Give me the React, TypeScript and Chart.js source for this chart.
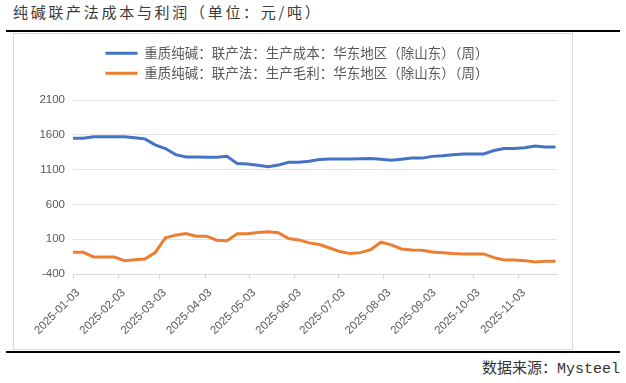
import React, { useEffect, useRef } from 'react';
import { Chart, registerables } from 'chart.js';

Chart.register(...registerables);

const TITLE = '纯碱联产法成本与利润（单位：元/吨）';
const SOURCE = '数据来源：Mysteel';
const SERIES_NAMES = [
  '重质纯碱：联产法：生产成本：华东地区（除山东）（周）',
  '重质纯碱：联产法：生产毛利：华东地区（除山东）（周）',
];

const DATES = [
  '2025-01-03', '2025-01-10', '2025-01-17', '2025-01-24', '2025-01-31',
  '2025-02-07', '2025-02-14', '2025-02-21', '2025-02-28',
  '2025-03-07', '2025-03-14', '2025-03-21', '2025-03-28',
  '2025-04-04', '2025-04-11', '2025-04-18', '2025-04-25',
  '2025-05-02', '2025-05-09', '2025-05-16', '2025-05-23', '2025-05-30',
  '2025-06-06', '2025-06-13', '2025-06-20', '2025-06-27',
  '2025-07-04', '2025-07-11', '2025-07-18', '2025-07-25',
  '2025-08-01', '2025-08-08', '2025-08-15', '2025-08-22', '2025-08-29',
  '2025-09-05', '2025-09-12', '2025-09-19', '2025-09-26',
  '2025-10-03', '2025-10-10', '2025-10-17', '2025-10-24', '2025-10-31',
  '2025-11-07', '2025-11-14', '2025-11-21', '2025-11-28',
];

const COST = [
  1552, 1552, 1571, 1571, 1571, 1571, 1557, 1542, 1455,
  1402, 1315, 1282, 1282, 1278, 1278, 1290, 1186, 1182,
  1162, 1142, 1165, 1205, 1205, 1220, 1245, 1254, 1254,
  1254, 1256, 1258, 1250, 1235, 1250, 1265, 1265, 1290,
  1300, 1315, 1325, 1325, 1325, 1375, 1402, 1402, 1415,
  1440, 1425, 1425,
];

const PROFIT = [
  -88, -88, -155, -155, -155, -208, -194, -184, -93,
  119, 158, 182, 143, 143, 86, 77, 177, 177,
  197, 206, 192, 110, 90, 47, 23, -26, -78,
  -107, -93, -49, 57, 18, -40, -54, -59, -83,
  -93, -107, -112, -112, -112, -165, -199, -199, -208,
  -228, -218, -218,
];

const X_TICK_LABELS = [
  '2025-01-03', '2025-02-03', '2025-03-03', '2025-04-03', '2025-05-03', '2025-06-03',
  '2025-07-03', '2025-08-03', '2025-09-03', '2025-10-03', '2025-11-03',
];
const Y_TICKS = [-400, 100, 600, 1100, 1600, 2100];

const X_MIN_DATE = '2025-01-03';
const X_MAX_DATE = '2025-11-29';

const DAY_MS = 86400000;
const toDay = (s: string) => (Date.parse(s) - Date.parse(X_MIN_DATE)) / DAY_MS;

const TICK_FONT = '"Liberation Sans", Arial, sans-serif';
const CJK_FONT = '"Noto Sans CJK SC", "Noto Sans", sans-serif';

const legendGap = {
  id: 'legendGap',
  beforeInit(chart: any) {
    const legend = chart.legend;
    if (!legend) return;
    const orig = legend.fit;
    legend.fit = function (this: any) {
      orig.call(this);
      this.height += 10;
    };
  },
};

export default function App() {
  const canvasRef = useRef<HTMLCanvasElement | null>(null);

  useEffect(() => {
    const canvas = canvasRef.current;
    if (!canvas) return;
    const tickDays = X_TICK_LABELS.map(toDay);
    const chart = new Chart(canvas, {
      type: 'line',
      data: {
        datasets: [
          {
            label: SERIES_NAMES[0],
            data: DATES.map((d, i) => ({ x: toDay(d), y: COST[i] })),
            borderColor: '#4472C4',
            backgroundColor: '#4472C4',
            borderWidth: 3,
            pointRadius: 0,
            tension: 0,
          },
          {
            label: SERIES_NAMES[1],
            data: DATES.map((d, i) => ({ x: toDay(d), y: PROFIT[i] })),
            borderColor: '#ED7D31',
            backgroundColor: '#ED7D31',
            borderWidth: 3,
            pointRadius: 0,
            tension: 0,
          },
        ],
      },
      options: {
        animation: false,
        responsive: false,
        maintainAspectRatio: false,
        layout: { padding: { top: 6, left: 23, right: 15, bottom: 0 } },
        plugins: {
          tooltip: { enabled: false },
          legend: {
            position: 'top',
            labels: {
              boxWidth: 32,
              boxHeight: 3,
              padding: 6.5,
              color: '#595959',
              font: { size: 13.5, family: CJK_FONT },
              generateLabels: (c: any) =>
                Chart.defaults.plugins.legend.labels
                  .generateLabels(c)
                  .map((l: any) => ({ ...l, lineWidth: 0, fillStyle: l.strokeStyle })),
            },
          },
        },
        scales: {
          x: {
            type: 'linear',
            min: 0,
            max: toDay(X_MAX_DATE),
            afterBuildTicks: (s: any) => {
              s.ticks = tickDays.map((v) => ({ value: v }));
            },
            afterFit: (s: any) => {
              s.height = 75;
            },
            ticks: {
              autoSkip: false,
              maxRotation: 45,
              minRotation: 45,
              color: '#595959',
              font: { size: 11.5, family: TICK_FONT },
              labelOffset: 5,
              padding: 7,
              callback: (v: any) => {
                const idx = tickDays.indexOf(Number(v));
                return idx >= 0 ? X_TICK_LABELS[idx] : '';
              },
            },
            grid: {
              drawOnChartArea: false,
              drawTicks: true,
              tickLength: 5,
              color: '#d9d9d9',
            },
            border: { display: true, color: '#d9d9d9', width: 1 },
          },
          y: {
            min: -400,
            max: 2100,
            afterBuildTicks: (s: any) => {
              s.ticks = Y_TICKS.map((v) => ({ value: v }));
            },
            afterFit: (s: any) => {
              s.width = 36;
            },
            ticks: {
              color: '#595959',
              font: { size: 11.5, family: TICK_FONT },
              padding: 8,
              callback: (v: any) => String(v),
            },
            grid: { color: '#e3e3e3', drawTicks: false },
            border: { display: false },
          },
        },
      },
      plugins: [legendGap],
    } as any);
    return () => chart.destroy();
  }, []);

  return (
    <div
      style={{
        position: 'absolute',
        left: 0,
        top: 0,
        width: 626,
        height: 383,
        background: '#ffffff',
        overflow: 'hidden',
      }}
    >
      <div
        style={{
          position: 'absolute',
          left: 13,
          top: 2,
          fontFamily: CJK_FONT,
          fontSize: 15,
          letterSpacing: 2.7,
          color: '#3a3a3a',
          whiteSpace: 'nowrap',
          lineHeight: '20px',
        }}
      >
        {TITLE}
      </div>
      <div style={{ position: 'absolute', left: 6, top: 30, width: 614, height: 2, background: '#000' }} />
      <div
        style={{
          position: 'absolute',
          left: 13,
          top: 33,
          width: 560,
          height: 317,
          boxSizing: 'border-box',
          border: '1px solid #d9d9d9',
        }}
      />
      <canvas
        ref={canvasRef}
        width={558}
        height={315}
        style={{ position: 'absolute', left: 14, top: 34, width: 558, height: 315 }}
      />
      <div style={{ position: 'absolute', left: 6, top: 351, width: 614, height: 2, background: '#000' }} />
      <div
        style={{
          position: 'absolute',
          right: 6,
          top: 360,
          fontFamily: '"Liberation Mono", "Noto Sans CJK SC", monospace',
          fontSize: 15,
          color: '#333',
          whiteSpace: 'nowrap',
          lineHeight: '20px',
        }}
      >
        {SOURCE}
      </div>
    </div>
  );
}
